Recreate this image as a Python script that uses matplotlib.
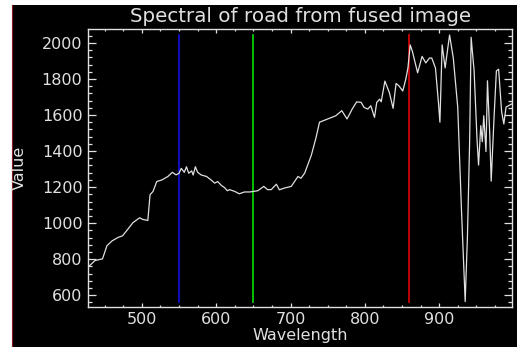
import matplotlib
matplotlib.use('Agg')
import matplotlib.pyplot as plt
from matplotlib.patches import Rectangle
from matplotlib.lines import Line2D
from matplotlib.ticker import MultipleLocator

# ---------------- Data ----------------
wavelength = [427.5, 437, 447, 453, 460, 468, 474, 481, 488, 497, 501, 508, 511, 515,
              520, 527, 535, 541, 546, 550, 553, 557, 560, 563, 567, 569, 572, 575,
              580, 587, 593, 598, 602, 607, 611, 615, 618, 625, 631, 638, 645, 650,
              656, 664, 669, 674, 681, 685, 692, 701, 710, 714, 719, 728, 734, 739,
              750, 761, 769, 776, 783, 789, 795, 799, 804, 808, 813, 816, 820, 822,
              827, 833, 838, 842, 846, 851, 855, 858, 861, 864, 871, 877, 882, 887,
              890, 895, 899, 901, 904, 908, 914, 919, 925, 930, 935, 938, 941, 943,
              947, 951, 953, 956, 958, 960, 963, 965, 968, 970, 974, 977, 980, 984,
              987, 990, 994, 998]
value = [756, 793, 802, 875, 902, 921, 930, 966, 1003, 1030, 1021, 1015, 1158, 1176,
         1231, 1240, 1259, 1282, 1268, 1277, 1304, 1282, 1313, 1277, 1290, 1267, 1313, 1282,
         1267, 1259, 1240, 1222, 1231, 1209, 1198, 1180, 1186, 1176, 1163, 1173, 1173, 1176,
         1180, 1204, 1186, 1186, 1216, 1185, 1195, 1204, 1259, 1249, 1277, 1377, 1469, 1560,
         1578, 1596, 1624, 1578, 1633, 1673, 1670, 1642, 1633, 1651, 1587, 1670, 1688, 1673,
         1788, 1724, 1637, 1775, 1761, 1733, 1797, 1861, 1989, 1952, 1834, 1925, 1889, 1916,
         1916, 1861, 1670, 1560, 1989, 1861, 2044, 1916, 1642, 1075, 565, 920, 1452, 2031,
         1845, 1459, 1322, 1541, 1452, 1596, 1397, 1790, 1500, 1233, 1600, 1845, 1854, 1620,
         1550, 1644, 1653, 1662]

band_wl = [550, 650, 860]
band_colors = ['#1010d0', '#00d000', '#d00000']

title = "Spectral of road from fused image"
x_label = "Wavelength"
y_label = "Value"

fg = '#e0e0e0'

# ---------------- Figure ----------------
fig = plt.figure(figsize=(5.17, 3.47), dpi=100, facecolor='white')
# black screen area with white margin top/left (screenshot look)
fig.patches.append(Rectangle((12 / 517, 0), 1 - 12 / 517, 1 - 5 / 347,
                             transform=fig.transFigure, facecolor='black',
                             edgecolor='none', zorder=-2))
fig.lines.append(Line2D([11.5 / 517, 11.5 / 517], [0, 1 - 5 / 347],
                        transform=fig.transFigure, color='#8b1a1a',
                        linewidth=0.8, zorder=-1))

ax = fig.add_axes([88 / 517, 40 / 347, 424 / 517, 278 / 347])
ax.set_zorder(1)
ax.set_facecolor('black')

ax.plot(wavelength, value, color=fg, linewidth=0.9, zorder=3)
for wl, c in zip(band_wl, band_colors):
    ax.plot([wl, wl], [min(value), max(value)], color=c, linewidth=1.3, zorder=2)

ax.set_xlim(427.5, 998)
ax.set_ylim(535, 2077)

ax.xaxis.set_major_locator(MultipleLocator(100))
ax.xaxis.set_minor_locator(MultipleLocator(25))
ax.yaxis.set_major_locator(MultipleLocator(200))
ax.yaxis.set_minor_locator(MultipleLocator(40))

for s in ax.spines.values():
    s.set_color(fg)
    s.set_linewidth(1.0)

ax.tick_params(axis='both', which='both', direction='in', colors=fg,
               top=True, right=True, labelsize=11.5, width=0.9)
ax.tick_params(axis='x', which='major', length=3.0, pad=3.5)
ax.tick_params(axis='x', which='minor', length=1.6)
ax.tick_params(axis='y', which='major', length=6.0, pad=4)
ax.tick_params(axis='y', which='minor', length=3.0)

ax.set_title(title, color=fg, fontsize=14.3, pad=5)
ax.set_xlabel(x_label, color=fg, fontsize=11.5)
ax.xaxis.set_label_coords(0.5, -0.077)
ax.set_ylabel(y_label, color=fg, fontsize=11.5, va='center')
ax.yaxis.set_label_coords(-0.163, 0.5)

fig.savefig('out.png', dpi=100, facecolor=fig.get_facecolor())
plt.close(fig)
